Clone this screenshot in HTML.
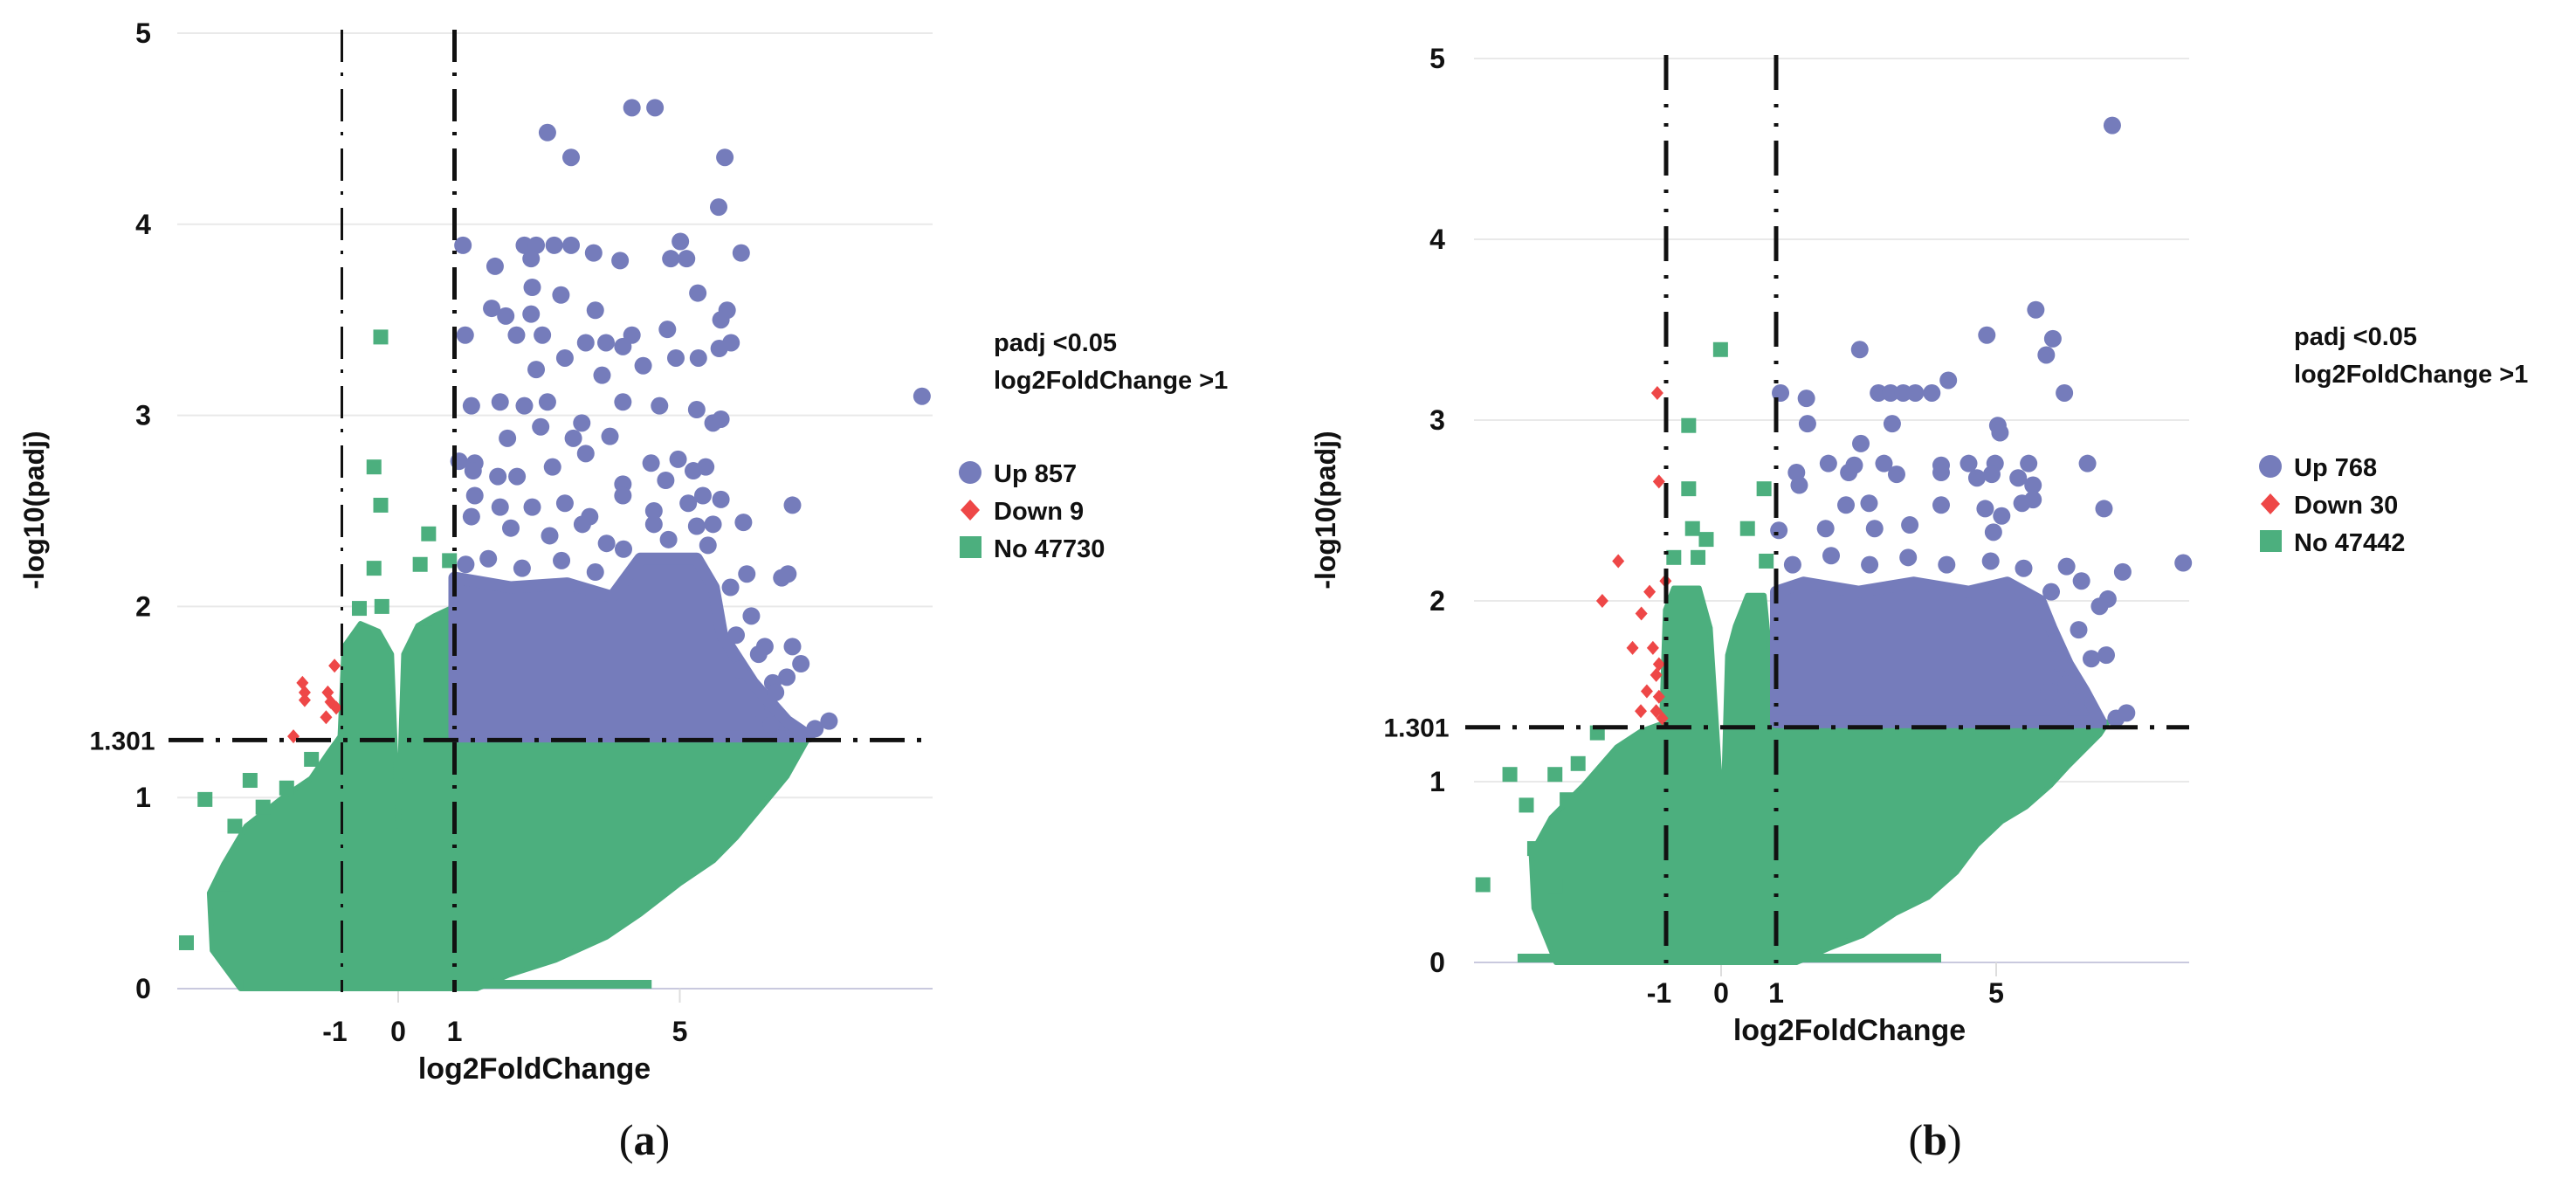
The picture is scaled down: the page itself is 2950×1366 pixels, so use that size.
<!DOCTYPE html>
<html><head><meta charset="utf-8"><style>
html,body{margin:0;padding:0;background:#fff;}
svg{display:block;}
text{font-family:"Liberation Sans",sans-serif;font-weight:bold;fill:#111;}
</style></head><body>
<svg id="fig" width="2950" height="1366" viewBox="0 0 2950 1366"></svg>
<script>
// ---------- Panel A data ----------
const aUpX=[2.65,3.07,4.15,4.56,5.80,5.69,6.09,1.15,2.24,2.45,2.77,3.07,3.47,3.94,5.01,4.84,5.12,1.72,2.36,2.38,2.89,5.32,1.66,1.91,2.36,3.5,5.84,5.73,1.19,2.1,2.56,3.33,4.15,4.78,5.91,5.7,3.69,3.99,2.45,2.96,3.62,4.35,4.93,5.33,1.3,1.81,2.24,2.65,3.26,3.99,4.64,5.3,5.59,5.73,1.08,1.36,1.94,2.53,3.11,3.76,4.49,4.97,5.46,1.33,1.77,2.11,2.74,3.33,3.99,4.75,5.24,5.73,7.0,6.13,1.36,1.81,2.38,2.96,3.4,3.99,4.54,5.15,5.41,1.3,2.0,2.69,3.27,3.7,4.54,5.3,5.59,6.81,6.92,6.19,6.51,7.0,7.15,6.9,6.65,7.65,7.4,6.27,6.06,6.35,6.62,9.3,1.2,1.6,2.2,2.9,3.5,4.0,4.8,5.5,5.9,6.0,6.4,6.7];
const aUpY=[4.48,4.35,4.61,4.61,4.35,4.09,3.85,3.89,3.89,3.89,3.89,3.89,3.85,3.81,3.91,3.82,3.82,3.78,3.82,3.67,3.63,3.64,3.56,3.52,3.53,3.55,3.55,3.50,3.42,3.42,3.42,3.38,3.42,3.45,3.38,3.35,3.38,3.36,3.24,3.30,3.21,3.26,3.30,3.30,3.05,3.07,3.05,3.07,2.96,3.07,3.05,3.03,2.96,2.98,2.76,2.75,2.88,2.94,2.88,2.89,2.75,2.77,2.73,2.71,2.68,2.68,2.73,2.80,2.64,2.66,2.71,2.56,2.53,2.44,2.58,2.52,2.52,2.54,2.47,2.58,2.50,2.54,2.58,2.47,2.41,2.37,2.43,2.33,2.43,2.42,2.43,2.15,2.17,2.17,1.79,1.79,1.70,1.63,1.60,1.40,1.36,1.95,1.67,1.47,1.38,3.1,2.22,2.25,2.2,2.24,2.18,2.3,2.35,2.32,2.1,1.85,1.75,1.55];
const aUpEnvX=[1.0,1.0,2.0,3.0,3.8,4.3,5.3,5.6,5.75,6.3,6.9,7.3];
const aUpEnvY=[1.32,2.15,2.1,2.12,2.05,2.25,2.25,2.1,1.85,1.6,1.4,1.32];
const aDownX=[-1.13,-1.66,-1.66,-1.25,-1.2,-1.28,-1.86,-1.1,-1.7];
const aDownY=[1.69,1.55,1.51,1.55,1.50,1.42,1.32,1.47,1.6];
const aNoX=[-0.31,-0.43,-0.31,0.54,0.39,-0.43,0.91,-0.69,-0.29,0.48,-2.63,-3.43,-3.76,-1.98,-1.54,-3.1,-2.3,-2.9,-2.4];
const aNoY=[3.41,2.73,2.53,2.38,2.22,2.2,2.24,1.99,2.0,1.86,1.09,0.99,0.24,1.05,1.2,0.55,0.8,0.85,0.95];
const aNoEnvX=[-2.8,-3.3,-3.35,-3.1,-2.7,-2.05,-1.55,-1.25,-1.03,-0.96,-0.67,-0.35,-0.12,0.0,0.1,0.35,0.64,0.93,1.0,7.3,6.9,6.45,6.0,5.6,5.0,4.3,3.7,2.8,1.95,1.4];
const aNoEnvY=[0,0.2,0.5,0.65,0.85,1.0,1.1,1.23,1.32,1.79,1.91,1.87,1.75,0.85,1.75,1.9,1.95,1.99,1.32,1.32,1.11,0.95,0.79,0.67,0.55,0.39,0.27,0.15,0.07,0];
const aBarX=[-2.75,4.5];

// ---------- Panel B data ----------
const bUpX=[7.11,5.72,4.83,6.03,5.91,6.24,2.52,4.13,1.08,1.55,2.86,3.08,3.31,3.53,3.83,1.57,3.11,5.03,5.07,2.54,1.95,2.42,2.96,4.0,4.5,4.98,5.59,6.66,1.37,1.42,2.32,3.19,4.0,4.65,4.92,5.4,5.67,2.27,2.69,4.0,4.8,5.1,5.47,5.67,6.96,1.9,2.79,3.43,4.95,1.05,6.28,6.55,7.3,8.4,7.03,6.88,6.5,6.06,7.0,6.73,6.14,6.28,5.96,6.46,7.37,7.18,6.14,1.3,2.0,2.7,3.4,4.1,4.9,5.5,6.0];
const bUpY=[4.63,3.61,3.47,3.45,3.36,3.15,3.39,3.22,3.15,3.12,3.15,3.15,3.15,3.15,3.15,2.98,2.98,2.97,2.93,2.87,2.76,2.75,2.76,2.75,2.76,2.76,2.76,2.76,2.71,2.64,2.71,2.70,2.71,2.68,2.70,2.68,2.64,2.53,2.54,2.53,2.51,2.47,2.54,2.56,2.51,2.40,2.40,2.42,2.38,2.39,2.19,2.11,2.16,2.21,2.01,1.97,1.84,1.77,1.70,1.68,1.66,1.54,1.50,1.44,1.38,1.35,1.38,2.2,2.25,2.2,2.24,2.2,2.22,2.18,2.05];
const bUpEnvX=[1.0,1.0,1.5,2.5,3.5,4.5,5.2,5.8,6.0,6.3,6.6,6.9];
const bUpEnvY=[1.33,2.05,2.1,2.05,2.1,2.05,2.1,2.0,1.85,1.65,1.5,1.33];
const bDownX=[-1.16,-1.13,-1.87,-1.3,-2.16,-1.45,-1.01,-1.61,-1.24,-1.13,-1.18,-1.35,-1.13,-1.46,-1.18,-1.07];
const bDownY=[3.15,2.66,2.22,2.05,2.0,1.93,2.11,1.74,1.74,1.65,1.59,1.5,1.47,1.39,1.39,1.35];
const bNoX=[-0.01,-0.59,-0.59,0.78,0.48,-0.52,-0.27,-0.86,-0.42,0.82,-4.33,-3.84,-3.54,-3.02,-2.8,-3.02,-3.39,-2.25,-2.6];
const bNoY=[3.39,2.97,2.62,2.62,2.4,2.4,2.34,2.24,2.24,2.22,0.43,1.04,0.87,1.04,0.9,0.42,0.63,1.27,1.1];
const bNoEnvX=[-3.0,-3.4,-3.45,-3.09,-2.5,-1.9,-1.45,-1.08,-1.01,-0.86,-0.4,-0.2,0.03,0.12,0.26,0.48,0.78,1.0,7.03,6.88,6.29,5.99,5.54,5.10,4.65,4.28,3.76,3.16,2.57,1.97,1.37];
const bNoEnvY=[0,0.3,0.6,0.8,0.98,1.19,1.28,1.32,1.95,2.07,2.07,1.85,0.75,1.7,1.86,2.03,2.03,1.33,1.33,1.26,1.08,0.98,0.86,0.78,0.65,0.5,0.36,0.27,0.15,0.08,0];
const bBarX=[-3.7,4.0];

const yTicks=[0,1,2,3,4,5];
const BLUE="#757cbb",GREEN="#4caf7e",RED="#ee4747";
const NS="http://www.w3.org/2000/svg";
const svg=document.getElementById('fig');
function mk(tag,attrs,parent){const e=document.createElementNS(NS,tag);for(const k in attrs)e.setAttribute(k,attrs[k]);(parent||svg).appendChild(e);return e;}

function panel(P){
  const g=mk('g',{});
  
  
  const sx=v=>P.x0+v*P.ux, sy=v=>P.y0-v*P.uy;
  yTicks.forEach(t=>{
    const l=mk('line',{x1:P.left,x2:P.right,y1:sy(t),y2:sy(t),stroke:t===0?'#c9c9de':'#e9e9e9','stroke-width':2},g);
    
    
    const tx=mk('text',{x:P.ylabX,y:sy(t)+11,'text-anchor':'middle','font-size':32},g);
    tx.textContent=t;
    
    
  });
  [0,5].forEach(t=>{const l=mk('line',{x1:sx(t),x2:sx(t),y1:sy(0),y2:sy(0)+16,stroke:'#ddd','stroke-width':2},g);
    });
  const t13=mk('text',{x:P.ylabX-24,y:sy(1.301)+11,'text-anchor':'middle','font-size':30},g);
  t13.textContent='1.301';
  
  
  [-1,0,1,5].forEach(t=>{const tx=mk('text',{x:sx(t)+(t===-1?-8:0),y:P.xlabY,'text-anchor':'middle','font-size':32},g);tx.textContent=t;
    });
  const pts=P.noEnvX.map((v,i)=>sx(v)+','+sy(P.noEnvY[i])).join(' ');
  const pg=mk('polygon',{points:pts,fill:GREEN,stroke:GREEN,'stroke-width':6,'stroke-linejoin':'round'},g);
  
  
  const bar=mk('rect',{x:sx(P.barX[0]),y:sy(0)-10,width:sx(P.barX[1])-sx(P.barX[0]),height:10,fill:GREEN},g);
  
  
  P.noX.forEach((v,i)=>{const r=mk('rect',{x:sx(v)-8.5,y:sy(P.noY[i])-8.5,width:17,height:17,fill:GREEN},g);
    });
  const bp=P.upEnvX.map((v,i)=>sx(v)+','+sy(P.upEnvY[i])).join(' ');
  const bpg=mk('polygon',{points:bp,fill:BLUE,stroke:BLUE,'stroke-width':14,'stroke-linejoin':'round'},g);
  
  
  P.upX.forEach((v,i)=>{const c=mk('circle',{cx:sx(v),cy:sy(P.upY[i]),r:10,fill:BLUE},g);
    });
  P.downX.forEach((v,i)=>{const x=sx(v),y=sy(P.downY[i]);const d=mk('polygon',{points:`${x},${y-8} ${x+7},${y} ${x},${y+8} ${x-7},${y}`,fill:RED},g);
    });
  [-1,1].forEach((t,k)=>{const l=mk('line',{x1:sx(t),x2:sx(t),y1:sy(5)-4,y2:sy(0)+4,stroke:'#111','stroke-width':P.vw[k],'stroke-dasharray':P.vdash},g);
    });
  const h=mk('line',{x1:P.left-10,x2:P.right,y1:sy(1.301),y2:sy(1.301),stroke:'#111','stroke-width':5,'stroke-dasharray':'40 14 5 14'},g);
  
  
  const xt=mk('text',{x:P.xtX,y:P.xtY,'text-anchor':'middle','font-size':34},g);xt.textContent='log2FoldChange';
  
  const yt=mk('text',{x:0,y:0,'text-anchor':'middle','font-size':32,transform:`translate(${P.ytX},584) rotate(-90)`},g);yt.textContent='-log10(padj)';
  
  const lg=mk('g',{},g);
  
  
  const l1=mk('text',{x:P.legX,y:P.legY,'font-size':29},lg);l1.textContent='padj <0.05';
  
  const l2=mk('text',{x:P.legX,y:P.legY+43,'font-size':29},lg);l2.textContent='log2FoldChange >1';
  
  const base=P.legY+150;
  const e1=mk('circle',{cx:P.legX-27,cy:base-11,r:13,fill:BLUE},lg);
  const e2=mk('polygon',{points:`${P.legX-27},${base+32-12} ${P.legX-16},${base+32} ${P.legX-27},${base+32+12} ${P.legX-38},${base+32}`,fill:RED},lg);
  const e3=mk('rect',{x:P.legX-39,y:base+62,width:25,height:25,fill:GREEN},lg);
  [P.upLab,P.downLab,P.noLab].forEach((s,i)=>{const t=mk('text',{x:P.legX,y:base+i*43,'font-size':29},lg);t.textContent=s;
    });
  const cap=mk('text',{x:P.capX,y:1322,'text-anchor':'middle','font-size':50,style:'font-family:"Liberation Serif",serif;font-weight:normal'},g);
  cap.innerHTML='(<tspan font-weight="bold">'+P.cap+'</tspan>)';
  
}

panel({id:'a',x0:456,ux:64.5,y0:1132,uy:218.8,left:203,right:1068,ylabX:164,xlabY:1192,xtX:612,xtY:1235,ytX:50,
  legX:1138,legY:402,vw:[3,5],vdash:'37 12 4 15',
  upX:aUpX,upY:aUpY,upEnvX:aUpEnvX,upEnvY:aUpEnvY,downX:aDownX,downY:aDownY,noX:aNoX,noY:aNoY,noEnvX:aNoEnvX,noEnvY:aNoEnvY,barX:aBarX,
  upLab:'Up 857',downLab:'Down 9',noLab:'No 47730',capX:738,cap:'a'});
panel({id:'b',x0:1971,ux:63,y0:1102,uy:207,left:1688,right:2507,ylabX:1646,xlabY:1148,xtX:2118,xtY:1191,ytX:1529,
  legX:2627,legY:395,vw:[5,5],vdash:'40 16 4 18 4 16',
  upX:bUpX,upY:bUpY,upEnvX:bUpEnvX,upEnvY:bUpEnvY,downX:bDownX,downY:bDownY,noX:bNoX,noY:bNoY,noEnvX:bNoEnvX,noEnvY:bNoEnvY,barX:bBarX,
  upLab:'Up 768',downLab:'Down 30',noLab:'No 47442',capX:2216,cap:'b'});
</script>
</body></html>
